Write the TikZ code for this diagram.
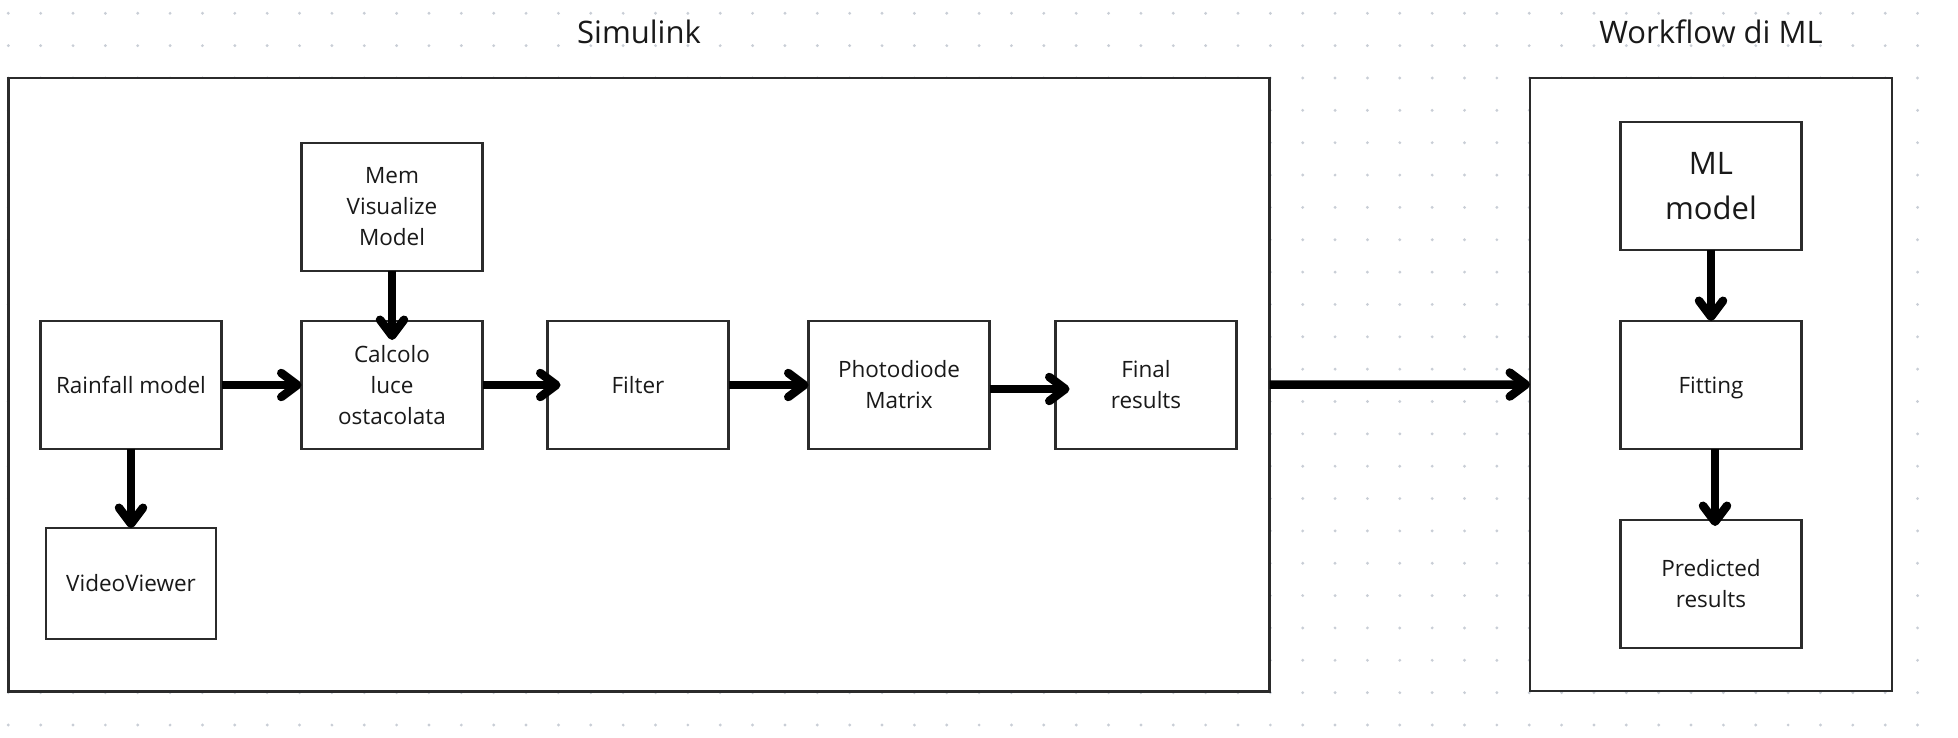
\documentclass[tikz,border=0pt]{standalone}
\usepackage{fontspec}
\setmainfont{Open Sans}
\usetikzlibrary{arrows.meta, positioning}
\definecolor{griddot}{HTML}{C9CED6}
\definecolor{boxline}{HTML}{2B2B2B}
\tikzset{
  block/.style={rectangle,draw=boxline,line width=2.2pt,fill=white,minimum width=181pt,minimum height=128pt,inner sep=2pt,outer sep=0pt,align=center,text=black!90,font=\fontsize{22.5}{31}\selectfont},
  block_big/.style={block,font=\fontsize{31}{45}\selectfont},
  group/.style={rectangle,draw=boxline,line width=2.2pt,fill=white,inner sep=0pt,outer sep=0pt},
  grouptitle/.style={inner sep=0pt,text=black!90,font=\fontsize{31}{40}\selectfont},
  flow/.style={line width=8.5pt,black,-{Straight Barb[length=16pt,width=24pt,round]}},
}
\begin{document}
\begin{tikzpicture}[x=1pt,y=-1pt]
	\useasboundingbox (0,0) rectangle (1958,738);
	\foreach \i in {0,...,59}
		\foreach \j in {0,...,22}
			\fill[griddot] (8.3+32.36*\i,13.3+32.35*\j) circle (1.6pt);
	\node[group,minimum width=1261pt,minimum height=613.5pt] (sim) at (639,384.75) {};
	\node[group,minimum width=362pt,minimum height=613pt] (wf) at (1711,384.5) {};
	\node[grouptitle,above=34pt of sim] (simtitle) {Simulink};
	\node[grouptitle,above=34pt of wf] (wftitle) {Workflow di ML};
	\node[block] (rain) at (131,385) {Rainfall model};
	\node[block,right=80pt of rain] (calc) {Calcolo\\luce\\ostacolata};
	\node[block,above=50pt of calc] (mem) {Mem\\Visualize\\Model};
	\node[block,right=65pt of calc] (filter) {Filter};
	\node[block,right=80pt of filter] (photo) {Photodiode\\Matrix};
	\node[block,right=66pt of photo] (final) {Final\\results};
	\node[block,minimum width=170pt,minimum height=111pt,below=79pt of rain] (video) {VideoViewer};
	\node[block,text depth=0pt] (fit) at (1711,385) {Fitting};
	\node[block_big,above=71pt of fit] (mlm) {ML\\model};
	\node[block,below=71pt of fit] (pred) {Predicted\\results};
	\draw[flow] (rain) -- (calc);
	\draw[flow,shorten >=-13pt] (calc) -- (filter);
	\draw[flow] (filter) -- (photo);
	\draw[flow,shorten >=-14pt] ([yshift=-4pt]photo.east) -- ([yshift=-4pt]final.west);
	\draw[flow,shorten >=-19pt] (mem) -- (calc);
	\draw[flow] (rain) -- (video);
	\draw[flow] (sim) -- (wf);
	\draw[flow] (mlm) -- (fit);
	\draw[flow,shorten >=-6pt] ([xshift=4pt]fit.south) -- ([xshift=4pt]pred.north);
\end{tikzpicture}
\end{document}
